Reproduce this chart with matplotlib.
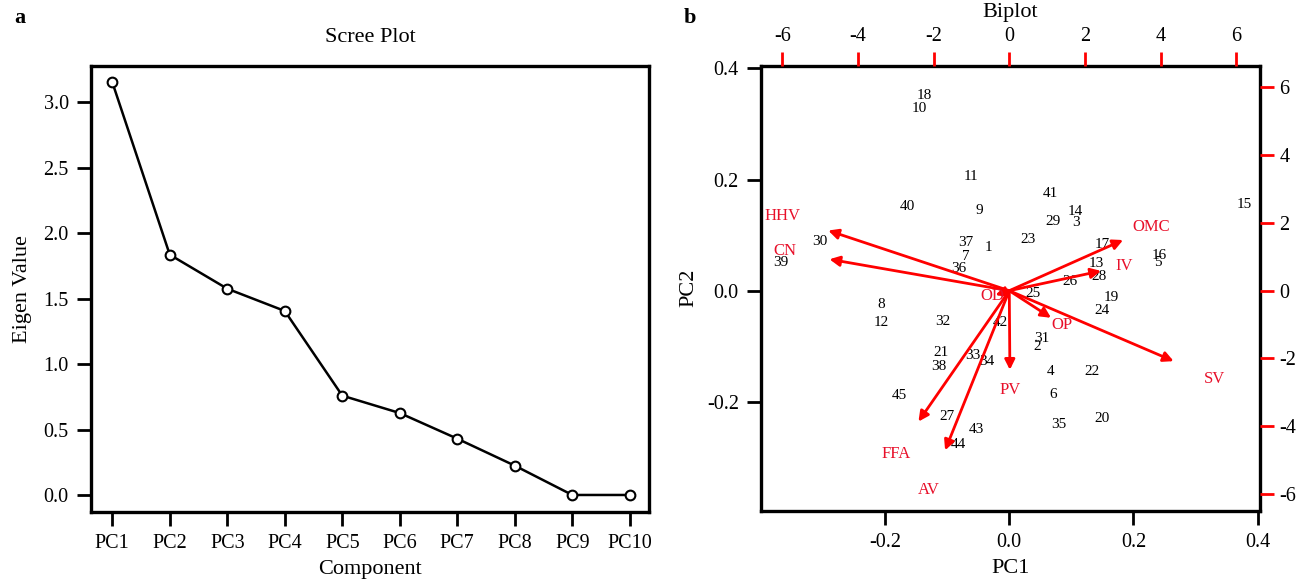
import numpy as np
import matplotlib
matplotlib.use('Agg')
import matplotlib.pyplot as plt

plt.rcParams['font.family'] = ['Liberation Serif', 'DejaVu Serif']
plt.rcParams['axes.unicode_minus'] = False

# scree data
components = ['PC1', 'PC2', 'PC3', 'PC4', 'PC5', 'PC6', 'PC7', 'PC8', 'PC9', 'PC10']
eigen_values = [3.155, 1.836, 1.576, 1.406, 0.759, 0.626, 0.430, 0.224, 0.0, 0.0]

# biplot scores (observations 1..45)
obs_ids = [str(i) for i in range(1, 46)]
pc1_scores = [-0.0332, 0.0447, 0.1076, 0.0668, 0.2394, 0.0700, -0.0698, -0.2069, -0.0489, -0.1452,
              -0.0623, -0.2058, 0.1410, 0.1060, 0.3785, 0.2415, 0.1506, -0.1376, 0.1640, 0.1490,
              -0.1102, 0.1334, 0.0302, 0.1495, 0.0377, 0.0979, -0.1010, 0.1447, 0.0700, -0.3053,
              0.0527, -0.1069, -0.0585, -0.0360, 0.0802, -0.0811, -0.0698, -0.1139, -0.3682, -0.1634,
              0.0656, -0.0139, -0.0537, -0.0827, -0.1763]
pc2_scores = [0.0769, -0.1008, 0.1219, -0.1446, 0.0504, -0.1860, 0.0607, -0.0257, 0.1440, 0.3284,
              0.2052, -0.0576, 0.0481, 0.1417, 0.1543, 0.0630, 0.0823, 0.3505, -0.0119, -0.2292,
              -0.1104, -0.1446, 0.0913, -0.0360, -0.0047, 0.0162, -0.2268, 0.0247, 0.1242, 0.0877,
              -0.0869, -0.0558, -0.1170, -0.1266, -0.2400, 0.0391, 0.0864, -0.1368, 0.0499, 0.1507,
              0.1741, -0.0581, -0.2490, -0.2760, -0.1878]

# variable loadings (secondary axis units)
var_names = ['HHV', 'CN', 'OMC', 'IV', 'OD', 'OP', 'SV', 'PV', 'FFA', 'AV']
load_x = [-5.98, -5.94, 3.76, 3.03, -0.46, 1.38, 5.43, 0.02, -3.00, -2.12]
load_y = [2.22, 1.16, 1.87, 0.73, -0.16, -1.00, -2.60, -2.92, -4.83, -5.89]

fig = plt.figure(figsize=(13.11, 5.79), dpi=100)

# ---- panel a: scree plot
ax1 = fig.add_axes([0.0694, 0.1162, 0.4259, 0.7703])
xs = np.arange(1, len(components) + 1)
ax1.plot(xs, eigen_values, color='black', lw=1.8, marker='o', ms=7,
         mfc='white', mec='black', mew=1.5)
ax1.set_xlim(0.63, 10.34)
ax1.set_ylim(-0.128, 3.28)
ax1.set_xticks(xs)
ax1.set_xticklabels(components)
ax1.set_yticks([0.0, 0.5, 1.0, 1.5, 2.0, 2.5, 3.0])
ax1.set_yticklabels(['0.0', '0.5', '1.0', '1.5', '2.0', '2.5', '3.0'])
ax1.tick_params(labelsize=14.5, length=10, width=2, pad=6)
for s in ax1.spines.values():
    s.set_linewidth(2.4)
ax1.set_xlabel('Component', fontsize=16, labelpad=5)
ax1.set_ylabel('Eigen Value', fontsize=16, labelpad=8)
ax1.set_title('Scree Plot', fontsize=16, pad=17)

# ---- panel b: biplot
ax2 = fig.add_axes([0.5805, 0.1180, 0.3806, 0.7685])
for lab, x, y in zip(obs_ids, pc1_scores, pc2_scores):
    ax2.text(x, y, lab, fontsize=11, ha='center', va='center')
xlim = (-0.400, 0.404)
ylim = (-0.396, 0.405)
ax2.set_xlim(*xlim)
ax2.set_ylim(*ylim)
ax2.set_xticks([-0.2, 0.0, 0.2, 0.4])
ax2.set_xticklabels(['-0.2', '0.0', '0.2', '0.4'])
ax2.set_yticks([-0.2, 0.0, 0.2, 0.4])
ax2.set_yticklabels(['-0.2', '0.0', '0.2', '0.4'])
ax2.tick_params(labelsize=14.5, length=10, width=2, pad=6)
for s in ax2.spines.values():
    s.set_linewidth(2.4)
ax2.set_xlabel('PC1', fontsize=16, labelpad=5)
ax2.set_ylabel('PC2', fontsize=16, labelpad=6)

# secondary axes for loadings
ratio = 16.4
ax3 = fig.add_axes(ax2.get_position(), frameon=False)
ax3.set_xlim(xlim[0] * ratio, xlim[1] * ratio)
ax3.set_ylim(ylim[0] * ratio, ylim[1] * ratio)
ax3.xaxis.tick_top()
ax3.yaxis.tick_right()
ax3.set_xticks([-6, -4, -2, 0, 2, 4, 6])
ax3.set_yticks([-6, -4, -2, 0, 2, 4, 6])
ax3.tick_params(labelsize=14.5, length=10, width=2, color='red', pad=4)
ax3.patch.set_alpha(0)

for name, lx, ly in zip(var_names, load_x, load_y):
    ax3.annotate('', xy=(0.8 * lx, 0.8 * ly), xytext=(0, 0),
                 arrowprops=dict(arrowstyle='-|>', color='red', lw=2,
                                 mutation_scale=15, shrinkA=0, shrinkB=0))
    ax3.text(lx, ly, name, color='#e8102a', fontsize=12, ha='center', va='center')

fig.text(0.5 * (0.5805 + 0.9611), 1 - 13 / 579, 'Biplot', fontsize=16, ha='center', va='center')
fig.text(0.0107, 0.969, 'a', fontsize=16, fontweight='bold', ha='left', va='center')
fig.text(0.5217, 0.969, 'b', fontsize=16, fontweight='bold', ha='left', va='center')

fig.savefig('out.png', dpi=100)
